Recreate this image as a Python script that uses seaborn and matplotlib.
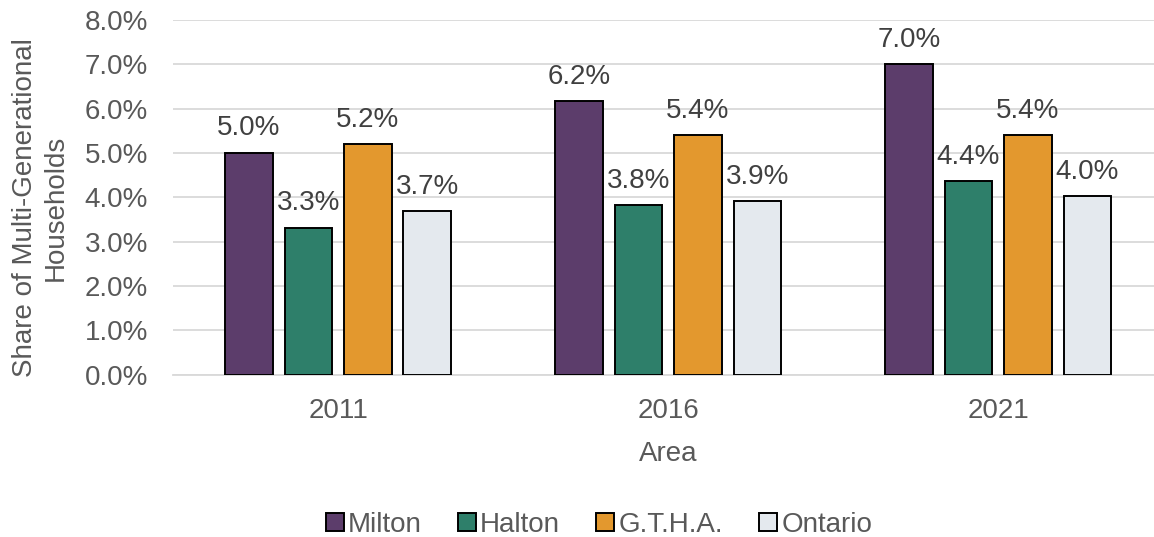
import numpy as np
import pandas as pd
import seaborn as sns
import matplotlib.pyplot as plt
from matplotlib.ticker import PercentFormatter

years = ["2011", "2016", "2021"]
areas = ["Milton", "Halton", "G.T.H.A.", "Ontario"]
milton = [5.01, 6.17, 7.01]
halton = [3.32, 3.82, 4.37]
gtha = [5.21, 5.41, 5.41]
ontario = [3.69, 3.91, 4.03]
colors = ["#5C3D6B", "#2E7F6A", "#E3982E", "#E4E9EE"]

df = pd.DataFrame({
    "year": years * 4,
    "area": np.repeat(areas, 3),
    "share": milton + halton + gtha + ontario,
})

sns.set_style("white")
plt.rcParams["font.family"] = ["Liberation Sans", "DejaVu Sans"]
fs = 20

fig = plt.figure(figsize=(11.54, 5.37), dpi=100)
ax = fig.add_axes([0.150, 0.302, 0.858, 0.661])

sns.barplot(data=df, x="year", y="share", hue="area", palette=colors,
            saturation=1, width=0.72, gap=0.2, edgecolor="black",
            linewidth=1.4, ax=ax, zorder=3)

for cont in ax.containers:
    ax.bar_label(cont, labels=[f"{v:.1f}%" for v in cont.datavalues],
                 padding=8, fontsize=fs, color="#404040")

ax.set_xlim(-0.5, 2.5)
ax.set_ylim(0, 8)
ax.set_yticks(np.arange(0, 8.1, 1))
ax.yaxis.set_major_formatter(PercentFormatter(decimals=1))
ax.grid(axis="y", color="#D9D9D9", linewidth=1.3, zorder=0)
ax.set_axisbelow(True)
for s in ["top", "right", "left"]:
    ax.spines[s].set_visible(False)
ax.spines["bottom"].set_color("#D9D9D9")
ax.spines["bottom"].set_linewidth(1.3)
ax.tick_params(axis="y", labelsize=fs, colors="#595959", length=0, pad=18)
ax.tick_params(axis="x", labelsize=fs, colors="#595959", length=0, pad=17)

ax.set_xlabel("Area", fontsize=fs, color="#595959", labelpad=12)
ax.set_ylabel("Share of Multi-Generational\nHouseholds", fontsize=fs,
              color="#595959", labelpad=6, linespacing=1.25)
ax.yaxis.set_label_coords(-0.105, 0.47)

ax.legend(loc="upper center", bbox_to_anchor=(0.43, -0.315), ncol=4,
          frameon=False, fontsize=fs, handlelength=0.65, handleheight=0.65,
          handletextpad=0.15, columnspacing=1.3, labelcolor="#595959")

fig.savefig("out.png", dpi=100)
